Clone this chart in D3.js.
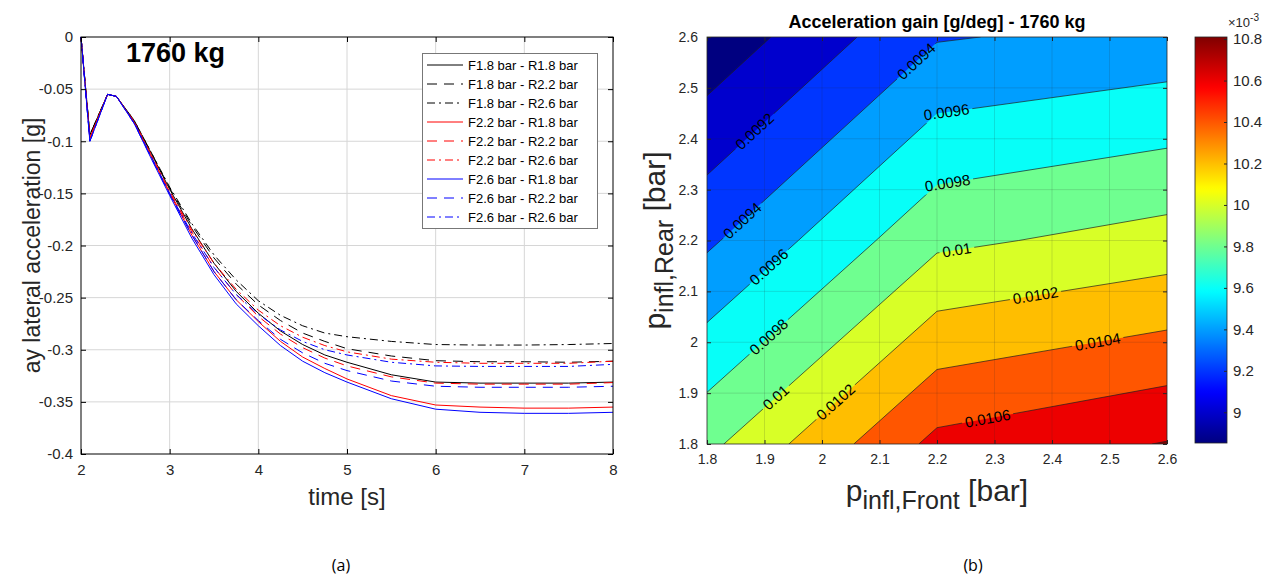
<!DOCTYPE html>
<html><head><meta charset="utf-8">
<script src="https://cdn.jsdelivr.net/npm/d3@7"></script>
<style>body{margin:0;background:#fff;}</style>
</head><body>
<svg id="c" width="1277" height="581" xmlns="http://www.w3.org/2000/svg"></svg>
<script>
// ---------------- DATA: panel (a) ----------------
const times = [2, 2.1, 2.3, 2.4, 2.6, 2.8, 3, 3.25, 3.5, 3.75, 4, 4.25, 4.5, 4.75, 5, 5.5, 6, 6.5, 7, 7.5, 8];
const seriesNames = ["F1.8 bar - R1.8 bar","F1.8 bar - R2.2 bar","F1.8 bar - R2.6 bar",
                     "F2.2 bar - R1.8 bar","F2.2 bar - R2.2 bar","F2.2 bar - R2.6 bar",
                     "F2.6 bar - R1.8 bar","F2.6 bar - R2.2 bar","F2.6 bar - R2.6 bar"];
const ayF18R18 = [0,-0.094,-0.055,-0.057,-0.081,-0.113,-0.146,-0.184,-0.217,-0.244,-0.265,-0.282,-0.295,-0.305,-0.312,-0.324,-0.331,-0.332,-0.332,-0.332,-0.331];
const ayF18R22 = [0,-0.094,-0.055,-0.057,-0.080,-0.112,-0.145,-0.181,-0.212,-0.237,-0.257,-0.272,-0.284,-0.292,-0.299,-0.306,-0.3105,-0.3115,-0.3115,-0.312,-0.311];
const ayF18R26 = [0,-0.094,-0.055,-0.057,-0.080,-0.112,-0.144,-0.179,-0.209,-0.233,-0.253,-0.267,-0.277,-0.284,-0.2875,-0.292,-0.295,-0.2955,-0.2955,-0.295,-0.294];
const ayF22R18 = [0,-0.097,-0.055,-0.057,-0.082,-0.116,-0.150,-0.190,-0.225,-0.252,-0.273,-0.292,-0.307,-0.318,-0.328,-0.344,-0.353,-0.355,-0.356,-0.356,-0.355];
const ayF22R22 = [0,-0.097,-0.055,-0.057,-0.082,-0.115,-0.149,-0.187,-0.221,-0.247,-0.268,-0.285,-0.298,-0.308,-0.3155,-0.326,-0.332,-0.333,-0.333,-0.333,-0.3315];
const ayF22R26 = [0,-0.097,-0.055,-0.057,-0.081,-0.114,-0.148,-0.185,-0.217,-0.242,-0.262,-0.277,-0.288,-0.296,-0.302,-0.309,-0.312,-0.313,-0.313,-0.313,-0.311];
const ayF26R18 = [0,-0.100,-0.055,-0.057,-0.083,-0.118,-0.152,-0.193,-0.228,-0.256,-0.277,-0.296,-0.311,-0.322,-0.331,-0.347,-0.357,-0.360,-0.361,-0.361,-0.360];
const ayF26R22 = [0,-0.100,-0.055,-0.057,-0.083,-0.117,-0.151,-0.190,-0.225,-0.252,-0.272,-0.290,-0.303,-0.313,-0.320,-0.330,-0.335,-0.336,-0.336,-0.336,-0.335];
const ayF26R26 = [0,-0.100,-0.055,-0.057,-0.082,-0.116,-0.150,-0.188,-0.221,-0.247,-0.266,-0.281,-0.292,-0.300,-0.305,-0.312,-0.3155,-0.316,-0.316,-0.316,-0.314];
const timeTicks = [2,3,4,5,6,7,8];
const ayTicks = [0,-0.05,-0.1,-0.15,-0.2,-0.25,-0.3,-0.35,-0.4];

// ---------------- DATA: panel (b) ----------------
const pFront = [1.8, 2.2, 2.6];
const pRear = [2.6, 2.2, 1.8];            // grid rows, top to bottom
const gainRear26 = [0.008852, 0.009385, 0.009465];
const gainRear22 = [0.009365, 0.009957, 0.010078];
const gainRear18 = [0.009948, 0.010656, 0.010810];
const gainLevels = [0.0090,0.0092,0.0094,0.0096,0.0098,0.0100,0.0102,0.0104,0.0106,0.0108];
const pTicks = [1.8,1.9,2.0,2.1,2.2,2.3,2.4,2.5,2.6];
const cbTicks = [9,9.2,9.4,9.6,9.8,10,10.2,10.4,10.6,10.8];
// contour labels: level, pFront, pRear (approx. where MATLAB placed them)
const labelLevel = [0.0092,0.0094,0.0094,0.0096,0.0096,0.0098,0.0098,0.0100,0.0100,0.0102,0.0102,0.0104,0.0106];
const labelText  = ["0.0092","0.0094","0.0094","0.0096","0.0096","0.0098","0.0098","0.01","0.01","0.0102","0.0102","0.0104","0.0106"];
const labelPF    = [1.8835,1.8631,2.1647,1.9125,2.2191,1.9096,2.2191,1.9212,2.2348,2.0256,2.3717,2.4800,2.2870];
const labelPR    = [2.4139,2.2370,2.5514,2.1420,2.4329,2.0078,2.3071,1.8898,2.1794,1.8800,2.0895,1.9979,1.8570];

// ---------------- RENDER ----------------
const FONT = "'Liberation Sans', Arial, Helvetica, sans-serif";
const svg = d3.select('#c').style('font-family', FONT);
const fmt = d => String(Math.round(d*100)/100);

// ===== panel (a) =====
const A = {x0:81, x1:613, y0:37, y1:454};
const xA = d3.scaleLinear().domain([2,8]).range([A.x0, A.x1]);
const yA = d3.scaleLinear().domain([-0.4,0]).range([A.y1, A.y0]);
const gA = svg.append('g');
gA.append('rect').attr('x',A.x0).attr('y',A.y0).attr('width',A.x1-A.x0).attr('height',A.y1-A.y0).attr('fill','#fff');
gA.append('g').selectAll('line').data(timeTicks.slice(1,-1)).join('line')
  .attr('x1',d=>xA(d)).attr('x2',d=>xA(d)).attr('y1',A.y0).attr('y2',A.y1).attr('stroke','#d6d6d6').attr('stroke-width',1);
gA.append('g').selectAll('line').data(ayTicks.slice(1,-1)).join('line')
  .attr('y1',d=>yA(d)).attr('y2',d=>yA(d)).attr('x1',A.x0).attr('x2',A.x1).attr('stroke','#d6d6d6').attr('stroke-width',1);

const styleA = [
  ['#000',null],['#000','10,7'],['#000','8,4,2,4'],
  ['#ff0000',null],['#ff0000','10,7'],['#ff0000','8,4,2,4'],
  ['#0000ff',null],['#0000ff','10,7'],['#0000ff','8,4,2,4']];
const seriesVals = [ayF18R18,ayF18R22,ayF18R26,ayF22R18,ayF22R22,ayF22R26,ayF26R18,ayF26R22,ayF26R26];
const series = seriesNames.map((n,i)=>({name:n, vals:seriesVals[i], color:styleA[i][0], dash:styleA[i][1]}));
const line = d3.line().x((d,i)=>xA(times[i])).y(d=>yA(d));
gA.append('g').selectAll('path').data(series).join('path')
  .attr('d',d=>line(d.vals)).attr('fill','none').attr('stroke',d=>d.color)
  .attr('stroke-width',1).attr('stroke-dasharray',d=>d.dash);

function styleAxis(g, size){
  g.select('.domain').remove();
  g.selectAll('.tick line').attr('stroke','#000');
  g.selectAll('.tick text').attr('fill','#262626').style('font-size',size+'px').style('font-family',FONT);
}
gA.append('g').attr('transform',`translate(0,${A.y1})`)
  .call(d3.axisBottom(xA).tickValues(timeTicks).tickSize(-5).tickSizeOuter(0).tickPadding(10).tickFormat(fmt))
  .call(g=>styleAxis(g,15));
gA.append('g').attr('transform',`translate(0,${A.y0})`)
  .call(d3.axisTop(xA).tickValues(timeTicks).tickSize(-5).tickSizeOuter(0).tickFormat(''))
  .call(g=>styleAxis(g,15));
gA.append('g').attr('transform',`translate(${A.x0},0)`)
  .call(d3.axisLeft(yA).tickValues(ayTicks).tickSize(-5).tickSizeOuter(0).tickPadding(8).tickFormat(fmt))
  .call(g=>styleAxis(g,15));
gA.append('g').attr('transform',`translate(${A.x1},0)`)
  .call(d3.axisRight(yA).tickValues(ayTicks).tickSize(-5).tickSizeOuter(0).tickFormat(''))
  .call(g=>styleAxis(g,15));
gA.append('rect').attr('x',A.x0).attr('y',A.y0).attr('width',A.x1-A.x0).attr('height',A.y1-A.y0)
  .attr('fill','none').attr('stroke','#000').attr('stroke-width',1);

gA.append('text').attr('x',126).attr('y',62).attr('font-weight','bold').attr('font-size',27).text('1760 kg');
gA.append('text').attr('x',(A.x0+A.x1)/2).attr('y',505).attr('text-anchor','middle').attr('font-size',24).attr('fill','#262626').text('time [s]');
gA.append('text').attr('transform',`translate(40,${(A.y0+A.y1)/2}) rotate(-90)`).attr('text-anchor','middle')
  .attr('font-size',23).attr('fill','#262626').text('ay lateral acceleration [g]');

// legend
const lg = gA.append('g');
lg.append('rect').attr('x',422.5).attr('y',53.5).attr('width',175).attr('height',175).attr('fill','#fff').attr('stroke','#777').attr('stroke-width',1);
const li = lg.selectAll('g').data(series).join('g').attr('transform',(d,i)=>`translate(0,${65+i*19})`);
li.append('line').attr('x1',427).attr('x2',463).attr('stroke',d=>d.color).attr('stroke-width',1).attr('stroke-dasharray',d=>d.dash);
li.append('text').attr('x',468).attr('dy','0.35em').attr('font-size',13).attr('fill','#000').text(d=>d.name);

// ===== panel (b) =====
const B = {x0:707, x1:1167, y0:37, y1:444};
const xB = d3.scaleLinear().domain([1.8,2.6]).range([B.x0,B.x1]);
const yB = d3.scaleLinear().domain([1.8,2.6]).range([B.y1,B.y0]);
const gridVals = [...gainRear26, ...gainRear22, ...gainRear18];
const cmin = d3.min(gridVals), cmax = d3.max(gridVals);
function jet(t){
  const c=v=>Math.max(0,Math.min(1,v));
  const r=c(Math.min(4*t-1.5,-4*t+4.5)), g=c(Math.min(4*t-0.5,-4*t+3.5)), b=c(Math.min(4*t+0.5,-4*t+2.5));
  return d3.rgb(r*255,g*255,b*255).formatHex();
}
const cScale = v => jet((v-cmin)/(cmax-cmin));
// grid-index -> pixel scales (d3.contours puts sample i at coordinate i+0.5)
const gxs = d3.scaleLinear().domain([0.5, pFront.length-0.5]).range([xB(pFront[0]), xB(pFront[pFront.length-1])]);
const gys = d3.scaleLinear().domain([0.5, pRear.length-0.5]).range([yB(pRear[0]), yB(pRear[pRear.length-1])]);
const proj = d3.geoTransform({point(x,y){ this.stream.point(gxs(x), gys(y)); }});
const path = d3.geoPath(proj);
const contours = d3.contours().size([pFront.length, pRear.length]).thresholds(gainLevels)(gridVals);

const defs = svg.append('defs');
defs.append('clipPath').attr('id','clipB').append('rect').attr('x',B.x0).attr('y',B.y0).attr('width',B.x1-B.x0).attr('height',B.y1-B.y0);
const gB = svg.append('g');
const plotB = gB.append('g').attr('clip-path','url(#clipB)');
plotB.append('rect').attr('x',B.x0).attr('y',B.y0).attr('width',B.x1-B.x0).attr('height',B.y1-B.y0).attr('fill',jet(0));
plotB.append('g').selectAll('path').data(contours).join('path')
  .attr('d',path).attr('fill',d=>cScale(d.value)).attr('stroke','none');

// label placement: snap to nearest point on contour line
function projectedSegments(level){
  const c = contours.find(k=>Math.abs(k.value-level)<1e-9);
  const segs=[];
  c.coordinates.forEach(poly=>poly.forEach(ring=>{
    for(let i=0;i<ring.length-1;i++){
      segs.push([[gxs(ring[i][0]),gys(ring[i][1])],[gxs(ring[i+1][0]),gys(ring[i+1][1])]]);
    }
  }));
  return segs;
}
const labels = labelText.map((t,i)=>{
  const px=xB(labelPF[i]), py=yB(labelPR[i]);
  let best=null;
  projectedSegments(labelLevel[i]).forEach(([a,b])=>{
    const dx=b[0]-a[0], dy=b[1]-a[1], L2=dx*dx+dy*dy; if(L2<1e-9) return;
    let u=((px-a[0])*dx+(py-a[1])*dy)/L2; u=Math.max(0,Math.min(1,u));
    const qx=a[0]+u*dx, qy=a[1]+u*dy, dist=Math.hypot(px-qx,py-qy);
    if(!best||dist<best.dist){ let ang=Math.atan2(dy,dx)*180/Math.PI; if(ang>90)ang-=180; if(ang<-90)ang+=180; best={x:qx,y:qy,ang,dist}; }
  });
  return {text:t, x:best.x, y:best.y, ang:best.ang};
});
// mask to break contour lines under labels
const mask = defs.append('mask').attr('id','lblMask').attr('maskUnits','userSpaceOnUse')
  .attr('x',0).attr('y',0).attr('width',1277).attr('height',581);
mask.append('rect').attr('width',1277).attr('height',581).attr('fill','#fff');
const lineG = plotB.append('g').attr('mask','url(#lblMask)');
lineG.selectAll('path').data(contours).join('path')
  .attr('d',path).attr('fill','none').attr('stroke','#202020').attr('stroke-width',0.7);
const lblG = plotB.append('g');
labels.forEach(l=>{
  const t = lblG.append('text').attr('transform',`translate(${l.x},${l.y}) rotate(${l.ang})`)
    .attr('text-anchor','middle').attr('dy','0.35em').attr('font-size',15).attr('fill','#000').text(l.text);
  const w = t.node().getComputedTextLength()+6;
  mask.append('rect').attr('transform',`translate(${l.x},${l.y}) rotate(${l.ang})`)
    .attr('x',-w/2).attr('y',-8).attr('width',w).attr('height',16).attr('fill','#000');
});
// grid on top
plotB.append('g').selectAll('line').data(pTicks.slice(1,-1)).join('line')
  .attr('x1',d=>xB(d)).attr('x2',d=>xB(d)).attr('y1',B.y0).attr('y2',B.y1).attr('stroke','rgba(38,38,38,0.15)');
plotB.append('g').selectAll('line').data(pTicks.slice(1,-1)).join('line')
  .attr('y1',d=>yB(d)).attr('y2',d=>yB(d)).attr('x1',B.x0).attr('x2',B.x1).attr('stroke','rgba(38,38,38,0.15)');

const fmt1 = d => String(Math.round(d*10)/10);
gB.append('g').attr('transform',`translate(0,${B.y1})`)
  .call(d3.axisBottom(xB).tickValues(pTicks).tickSize(-4).tickSizeOuter(0).tickPadding(10).tickFormat(fmt1))
  .call(g=>styleAxis(g,14)).call(g=>g.selectAll('.tick line').attr('stroke','#262626'));
gB.append('g').attr('transform',`translate(0,${B.y0})`)
  .call(d3.axisTop(xB).tickValues(pTicks).tickSize(-4).tickSizeOuter(0).tickFormat(''))
  .call(g=>styleAxis(g,14)).call(g=>g.selectAll('.tick line').attr('stroke','#262626'));
gB.append('g').attr('transform',`translate(${B.x0},0)`)
  .call(d3.axisLeft(yB).tickValues(pTicks).tickSize(-4).tickSizeOuter(0).tickPadding(9).tickFormat(fmt1))
  .call(g=>styleAxis(g,14)).call(g=>g.selectAll('.tick line').attr('stroke','#262626'));
gB.append('g').attr('transform',`translate(${B.x1},0)`)
  .call(d3.axisRight(yB).tickValues(pTicks).tickSize(-4).tickSizeOuter(0).tickFormat(''))
  .call(g=>styleAxis(g,14)).call(g=>g.selectAll('.tick line').attr('stroke','#262626'));
gB.append('rect').attr('x',B.x0).attr('y',B.y0).attr('width',B.x1-B.x0).attr('height',B.y1-B.y0)
  .attr('fill','none').attr('stroke','#262626').attr('stroke-width',0.8);

gB.append('text').attr('x',(B.x0+B.x1)/2).attr('y',28).attr('text-anchor','middle').attr('font-weight','bold')
  .attr('font-size',18).text('Acceleration gain [g/deg] - 1760 kg');
const xl = gB.append('text').attr('x',(B.x0+B.x1)/2).attr('y',501).attr('text-anchor','middle').attr('fill','#262626');
xl.append('tspan').attr('font-size',30).text('p');
xl.append('tspan').attr('font-size',25).attr('dy',8).text('infl,Front');
xl.append('tspan').attr('font-size',30).attr('dy',-8).text(' [bar]');
const yl = gB.append('text').attr('transform',`translate(665,${(B.y0+B.y1)/2}) rotate(-90)`).attr('text-anchor','middle').attr('fill','#262626');
yl.append('tspan').attr('font-size',30).text('p');
yl.append('tspan').attr('font-size',25).attr('dy',8).text('infl,Rear');
yl.append('tspan').attr('font-size',30).attr('dy',-8).text(' [bar]');

// colorbar
const CB = {x0:1195, x1:1227, y0:37, y1:443};
const cbScale = d3.scaleLinear().domain([cmin*1000, cmax*1000]).range([CB.y1, CB.y0]);
const grad = defs.append('linearGradient').attr('id','jetGrad').attr('x1',0).attr('y1',1).attr('x2',0).attr('y2',0);
d3.range(0,1.0001,0.01).forEach(t=>grad.append('stop').attr('offset',t).attr('stop-color',jet(t)));
gB.append('rect').attr('x',CB.x0).attr('y',CB.y0).attr('width',CB.x1-CB.x0).attr('height',CB.y1-CB.y0).attr('fill','url(#jetGrad)');
gB.append('g').attr('transform',`translate(${CB.x1},0)`)
  .call(d3.axisRight(cbScale).tickValues(cbTicks).tickSize(-3).tickSizeOuter(0).tickPadding(6).tickFormat(fmt1))
  .call(g=>styleAxis(g,15)).call(g=>g.selectAll('.tick line').attr('stroke','#262626'));
gB.append('rect').attr('x',CB.x0).attr('y',CB.y0).attr('width',CB.x1-CB.x0).attr('height',CB.y1-CB.y0)
  .attr('fill','none').attr('stroke','#262626').attr('stroke-width',0.8);
const ex = gB.append('text').attr('x',1228).attr('y',27).attr('fill','#262626');
ex.append('tspan').attr('font-size',13).text('\u00d710');
ex.append('tspan').attr('font-size',10).attr('dy',-6).text('-3');

// captions
svg.append('text').attr('x',341).attr('y',571).attr('text-anchor','middle').attr('font-size',16).attr('font-family',"'Open Sans', sans-serif").text('(a)');
svg.append('text').attr('x',973).attr('y',571).attr('text-anchor','middle').attr('font-size',16).attr('font-family',"'Open Sans', sans-serif").text('(b)');
</script>
</body></html>
